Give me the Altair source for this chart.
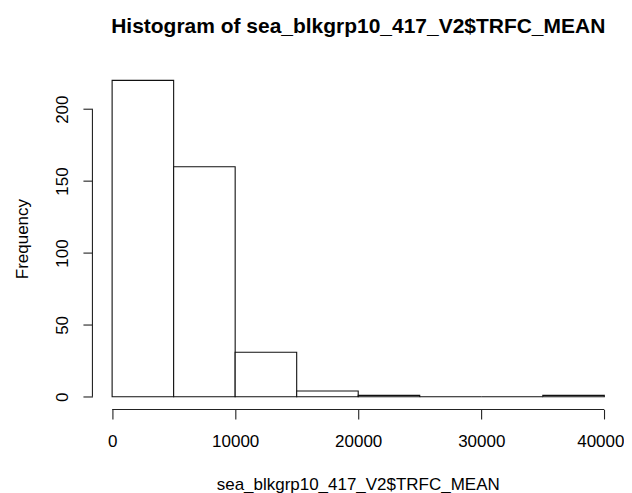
import altair as alt
import pandas as pd

# Histogram bins (TRFC_MEAN) and their frequencies
bin_start = [0, 5000, 10000, 15000, 20000, 25000, 30000, 35000]
bin_end = [5000, 10000, 15000, 20000, 25000, 30000, 35000, 40000]
counts = [220, 160, 31, 4, 1, 0, 0, 1]

x_ticks = [0, 10000, 20000, 30000, 40000]
y_ticks = [0, 50, 100, 150, 200]

title_text = "Histogram of sea_blkgrp10_417_V2$TRFC_MEAN"
x_title = "sea_blkgrp10_417_V2$TRFC_MEAN"
y_title = "Frequency"

FONT = "Liberation Sans"
W, H = 532, 342
FS = 17

df = pd.DataFrame({"start": bin_start, "end": bin_end, "count": counts, "base": [0] * len(counts)})

xscale = alt.Scale(domain=[-1600, 41600], nice=False, zero=False)
yscale = alt.Scale(domain=[-8.8, 228.8], nice=False, zero=False)

bars = alt.Chart(df).mark_rect(fill="white", stroke="#111111", strokeWidth=1.1).encode(
    x=alt.X("start:Q", scale=xscale,
            axis=alt.Axis(values=x_ticks, domain=False, grid=False, tickSize=9.5,
                          tickColor="#222222", tickWidth=1.1,
                          labelFontSize=FS, labelFont=FONT, labelColor="black",
                          labelBaseline="alphabetic", labelPadding=28, labelFlush=False,
                          labelOffset={"condition": {"test": "datum.value == 40000", "value": -4}, "value": 0},
                          labelOverlap=False, format="d",
                          title=x_title, titleFont=FONT, titleFontSize=FS,
                          titleFontWeight="normal", titleColor="black",
                          titleBaseline="alphabetic", titleY=80, titleX=W / 2 - 0.5,
                          titleAnchor="middle")),
    x2="end:Q",
    y=alt.Y("base:Q", scale=yscale,
            axis=alt.Axis(values=y_ticks, domain=False, grid=False, tickSize=9.5,
                          tickColor="#222222", tickWidth=1.1,
                          labelFontSize=FS, labelFont=FONT, labelColor="black",
                          labelAngle=270, labelAlign="center", labelBaseline="alphabetic",
                          labelPadding=15, labelOverlap=False, format="d",
                          title=y_title, titleFont=FONT, titleFontSize=FS,
                          titleFontWeight="normal", titleColor="black",
                          titleAngle=270, titleBaseline="alphabetic", titleX=-65,
                          titleY=H / 2, titleAlign="center")),
    y2="count:Q",
)

axis_df = pd.DataFrame({"x0": [x_ticks[0]], "x1": [x_ticks[-1]], "y0": [y_ticks[0]], "y1": [y_ticks[-1]]})

x_line = alt.Chart(axis_df).mark_rule(color="#222222", strokeWidth=1.1).encode(
    x=alt.X("x0:Q", scale=xscale), x2="x1:Q", y=alt.value(H)
)
y_line = alt.Chart(axis_df).mark_rule(color="#222222", strokeWidth=1.1).encode(
    y=alt.Y("y0:Q", scale=yscale), y2="y1:Q", x=alt.value(0)
)

chart = alt.layer(bars, x_line, y_line).properties(
    width=W,
    height=H,
    background="white",
    title=alt.Title(title_text, fontSize=21, fontWeight="bold", font=FONT, color="black",
                    anchor="middle", baseline="alphabetic", offset=14),
    autosize=alt.AutoSizeParams(type="none"),
    padding={"left": 84.5, "top": 59.6, "right": 0, "bottom": 84},
).configure_view(strokeWidth=0, stroke="transparent")

chart.save("out.html", embed_options={"renderer": "svg", "actions": False})
